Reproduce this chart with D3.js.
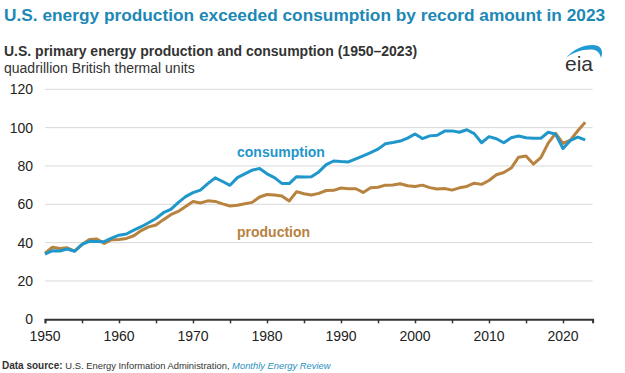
<!DOCTYPE html>
<html>
<head>
<meta charset="utf-8">
<script src="https://cdn.jsdelivr.net/npm/d3@7"></script>
<style>
  html, body { margin: 0; padding: 0; background: #fff; }
  svg { display: block; font-family: "Liberation Sans", Arial, sans-serif; }
</style>
</head>
<body>
<svg id="chart" width="625" height="373"></svg>
<script>
const years = d3.range(1950, 2024);
const consumption = [
  34.0, 35.8, 35.6, 36.7, 35.5, 39.1, 40.7, 40.6, 40.5, 42.4,
  43.9, 44.5, 46.5, 48.3, 50.4, 52.6, 55.6, 57.4, 60.9, 64.0,
  66.1, 67.4, 70.8, 73.8, 71.9, 69.9, 73.9, 75.9, 77.8, 78.7,
  75.9, 73.9, 70.9, 70.8, 74.4, 74.2, 74.4, 76.9, 80.7, 82.6,
  82.3, 82.1, 83.7, 85.3, 87.0, 88.8, 91.6, 92.2, 93.0, 94.5,
  96.7, 94.3, 95.7, 96.0, 98.2, 98.3, 97.6, 98.9, 96.9, 92.1,
  95.3, 94.2, 92.1, 94.7, 95.6, 94.7, 94.4, 94.4, 97.6, 96.6,
  89.1, 93.3, 95.1, 93.6
];
const production = [
  34.5, 37.6, 36.9, 37.3, 35.6, 39.0, 41.6, 41.9, 39.6, 41.5,
  41.6, 42.2, 43.6, 46.3, 48.2, 49.2, 52.0, 54.6, 56.3, 58.8,
  61.5, 60.7, 61.8, 61.5, 60.2, 59.1, 59.5, 60.3, 61.0, 63.8,
  65.1, 64.9, 64.3, 61.7, 66.6, 65.5, 64.9, 65.7, 67.2, 67.3,
  68.5, 68.1, 68.1, 66.2, 68.6, 68.9, 70.0, 70.1, 70.7, 69.7,
  69.3, 70.0, 68.7, 68.0, 68.2, 67.4, 68.6, 69.3, 71.0, 70.4,
  72.4, 75.4, 76.6, 78.9, 84.6, 85.2, 81.0, 84.3, 91.9, 97.0,
  91.8, 93.5, 98.4, 102.8
];
const yTicks = [0, 20, 40, 60, 80, 100, 120];
const xTickLabels = [1950, 1960, 1970, 1980, 1990, 2000, 2010, 2020];
const xMinorTicks = d3.range(1950, 2025, 5);

const svg = d3.select("#chart");
const blue = "#1f97cb";
const brown = "#b8823f";

const x = d3.scaleLinear().domain([1950, 2024]).range([45, 592.6]);
const y = d3.scaleLinear().domain([0, 120]).range([319.3, 89.3]);

// titles
svg.append("text").attr("x", 4).attr("y", 21)
  .attr("font-size", 17.3).attr("font-weight", "bold").attr("fill", "#1c88b6")
  .text("U.S. energy production exceeded consumption by record amount in 2023");
svg.append("text").attr("x", 4).attr("y", 56)
  .attr("font-size", 14).attr("font-weight", "bold").attr("fill", "#333")
  .text("U.S. primary energy production and consumption (1950\u20132023)");
svg.append("text").attr("x", 4).attr("y", 73)
  .attr("font-size", 14).attr("fill", "#333")
  .text("quadrillion British thermal units");

// eia logo
const logo = svg.append("g");
logo.append("path")
  .attr("d", "M566,58 C575,47 590,43 598,46 C602,48 603,53 601,58 C600,53 597,50 592,49.5 C583,49 573,52 566,58 Z")
  .attr("fill", "#1f9ad4");
logo.append("text").attr("x", 565).attr("y", 71)
  .attr("font-size", 21).attr("fill", "#333")
  .text("eia");

// gridlines
svg.append("g").selectAll("line").data(yTicks.filter(d => d > 0)).join("line")
  .attr("x1", 45).attr("x2", 592.6)
  .attr("y1", d => y(d)).attr("y2", d => y(d))
  .attr("stroke", "#d9d9d9").attr("stroke-width", 1);

// y labels
svg.append("g").selectAll("text").data(yTicks).join("text")
  .attr("x", 33).attr("y", d => y(d) + 5)
  .attr("text-anchor", "end").attr("font-size", 14).attr("fill", "#222")
  .text(d => d);

// x axis
const xAxis = d3.axisBottom(x).tickValues(xMinorTicks).tickSize(4).tickFormat("");
const gx = svg.append("g").attr("transform", `translate(0,${y(0)})`).call(xAxis);
gx.select(".domain").attr("stroke", "#333").attr("stroke-width", 2);
gx.selectAll(".tick line").attr("stroke", "#333").attr("stroke-width", 1.5);

svg.append("g").selectAll("text").data(xTickLabels).join("text")
  .attr("x", d => x(d)).attr("y", 341)
  .attr("text-anchor", "middle").attr("font-size", 14).attr("fill", "#222")
  .text(d => d);

// lines
const line = d3.line().x((d, i) => x(years[i])).y(d => y(d));
svg.append("path").datum(production).attr("d", line)
  .attr("fill", "none").attr("stroke", brown).attr("stroke-width", 3)
  .attr("stroke-linejoin", "round");
svg.append("path").datum(consumption).attr("d", line)
  .attr("fill", "none").attr("stroke", blue).attr("stroke-width", 3)
  .attr("stroke-linejoin", "round");

// series labels
svg.append("text").attr("x", 237).attr("y", 157)
  .attr("font-size", 14).attr("font-weight", "bold").attr("fill", blue)
  .text("consumption");
svg.append("text").attr("x", 237).attr("y", 237)
  .attr("font-size", 14).attr("font-weight", "bold").attr("fill", brown)
  .text("production");

// footer
const foot = svg.append("text").attr("x", 2).attr("y", 369).attr("font-size", 9.4).attr("fill", "#333");
foot.append("tspan").attr("font-weight", "bold").attr("font-size", 10).text("Data source: ");
foot.append("tspan").text("U.S. Energy Information Administration, ");
foot.append("tspan").attr("font-style", "italic").attr("fill", "#2a8fc0").text("Monthly Energy Review");
</script>
</body>
</html>
